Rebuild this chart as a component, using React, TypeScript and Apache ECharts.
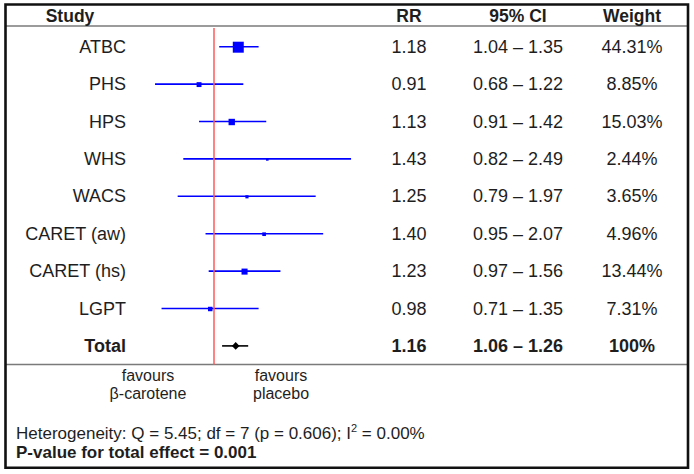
import React, { useEffect, useRef } from "react";
import * as echarts from "echarts";

const studies = ["ATBC", "PHS", "HPS", "WHS", "WACS", "CARET (aw)", "CARET (hs)", "LGPT", "Total"];
const rr = [1.18, 0.91, 1.13, 1.43, 1.25, 1.4, 1.23, 0.98, 1.16];
const ciLow = [1.04, 0.68, 0.91, 0.82, 0.79, 0.95, 0.97, 0.71, 1.06];
const ciHigh = [1.35, 1.22, 1.42, 2.49, 1.97, 2.07, 1.56, 1.35, 1.26];
const weights = [44.31, 8.85, 15.03, 2.44, 3.65, 4.96, 13.44, 7.31, 100];
const weightLabels = ["44.31%", "8.85%", "15.03%", "2.44%", "3.65%", "4.96%", "13.44%", "7.31%", "100%"];
const headers = ["Study", "RR", "95% CI", "Weight"];
const favourLabels = ["favours\nβ-carotene", "favours\nplacebo"];
const hetQ = "5.45";
const hetDf = "7";
const hetP = "0.606";
const hetI2 = "0.00%";
const pTotal = "0.001";

const FONT = '"Liberation Sans", Arial, sans-serif';
const TXT = "#1e1e1e";

export default function App() {
  const ref = useRef<HTMLDivElement>(null);
  useEffect(() => {
    if (!ref.current) return;
    const chart = echarts.init(ref.current, null, { renderer: "svg" });
    const totalIdx = studies.length - 1;
    const rows = studies.map((s, i) => [i, rr[i], ciLow[i], ciHigh[i], weights[i]]);

    const option: any = {
      animation: false,
      backgroundColor: "#ffffff",
      grid: { left: 108.6, right: 314.8, top: 28, bottom: 109.4 },
      xAxis: {
        type: "log",
        min: 0.5,
        max: 3,
        show: false,
      },
      yAxis: {
        type: "category",
        data: studies,
        inverse: true,
        show: false,
      },
      series: [
        {
          type: "custom",
          clip: false,
          data: rows,
          encode: { x: [1, 2, 3], y: 0 },
          renderItem: (params: any, api: any) => {
            const i = api.value(0);
            const pc = api.coord([api.value(1), i]);
            const lo = api.coord([api.value(2), i]);
            const hi = api.coord([api.value(3), i]);
            const isTotal = i === totalIdx;
            const color = isTotal ? "#000000" : "#0000ff";
            const children: any[] = [
              {
                type: "line",
                shape: { x1: lo[0], y1: lo[1], x2: hi[0], y2: hi[1] },
                style: { stroke: color, lineWidth: 1.6 },
              },
            ];
            if (isTotal) {
              const h = 3.8;
              children.push({
                type: "polygon",
                shape: {
                  points: [
                    [pc[0] - h, pc[1]],
                    [pc[0], pc[1] - h],
                    [pc[0] + h, pc[1]],
                    [pc[0], pc[1] + h],
                  ],
                },
                style: { fill: "#000000" },
              });
            } else {
              const s = 1.65 * Math.sqrt(api.value(4));
              children.push({
                type: "rect",
                shape: { x: pc[0] - s / 2, y: pc[1] - s / 2 + 0.5, width: s, height: s },
                style: { fill: "#0000ff" },
              });
            }
            return { type: "group", children };
          },
          markLine: {
            silent: true,
            symbol: "none",
            label: { show: false },
            lineStyle: { color: "#ff5a5a", width: 1.5, type: "solid" },
            data: [{ xAxis: 1 }],
          },
          z: 3,
        },
        {
          type: "custom",
          clip: false,
          data: rows,
          encode: { x: 1, y: 0 },
          renderItem: (params: any, api: any) => {
            const i = api.value(0);
            const y = api.coord([1, i])[1];
            const isTotal = i === totalIdx;
            const fw = isTotal ? "bold" : "normal";
            const mk = (x: number, text: string, align: string) => ({
              type: "text",
              x,
              y,
              style: {
                text,
                fill: TXT,
                font: `${fw} 18px ${FONT}`,
                align,
                verticalAlign: "middle",
              },
            });
            return {
              type: "group",
              children: [
                mk(126, studies[i], "right"),
                mk(409, rr[i].toFixed(2), "center"),
                mk(518, `${ciLow[i].toFixed(2)} – ${ciHigh[i].toFixed(2)}`, "center"),
                mk(632, weightLabels[i], "center"),
              ],
            };
          },
        },
      ],
      graphic: [
        {
          type: "rect",
          shape: { x: 5.5, y: 4.5, width: 682.5, height: 463.2 },
          style: { fill: "none", stroke: "#111111", lineWidth: 2.6 },
          z: 10,
        },
        {
          type: "line",
          shape: { x1: 6, y1: 26, x2: 687, y2: 26 },
          style: { stroke: "#7a7a7a", lineWidth: 1.5 },
        },
        {
          type: "line",
          shape: { x1: 6, y1: 364.5, x2: 687, y2: 364.5 },
          style: { stroke: "#7a7a7a", lineWidth: 1.5 },
        },
        ...[70, 409, 518, 632].map((x, k) => ({
          type: "text",
          x,
          y: 16,
          style: {
            text: headers[k],
            fill: TXT,
            font: `bold 17.5px ${FONT}`,
            align: "center",
            verticalAlign: "middle",
          },
        })),
        ...[148, 281].map((x, k) => ({
          type: "text",
          x,
          y: 384,
          style: {
            text: favourLabels[k],
            fill: TXT,
            font: `16px ${FONT}`,
            align: "center",
            verticalAlign: "middle",
            lineHeight: 18,
          },
        })),
        {
          type: "text",
          x: 16,
          y: 433,
          style: {
            text: `Heterogeneity: Q = ${hetQ}; df = ${hetDf} (p = ${hetP}); I{sup|2} = ${hetI2}`,
            fill: TXT,
            font: `17px ${FONT}`,
            align: "left",
            verticalAlign: "middle",
            rich: {
              sup: { fontSize: 11, fontFamily: FONT, fill: TXT, verticalAlign: "top", lineHeight: 22 },
            },
          },
        },
        {
          type: "text",
          x: 16,
          y: 452,
          style: {
            text: `P-value for total effect = ${pTotal}`,
            fill: TXT,
            font: `bold 17px ${FONT}`,
            align: "left",
            verticalAlign: "middle",
          },
        },
      ],
    };
    chart.setOption(option);
    return () => chart.dispose();
  }, []);
  return (
    <div
      ref={ref}
      style={{ position: "fixed", left: 0, top: 0, width: 694, height: 474, background: "#fff" }}
    />
  );
}
